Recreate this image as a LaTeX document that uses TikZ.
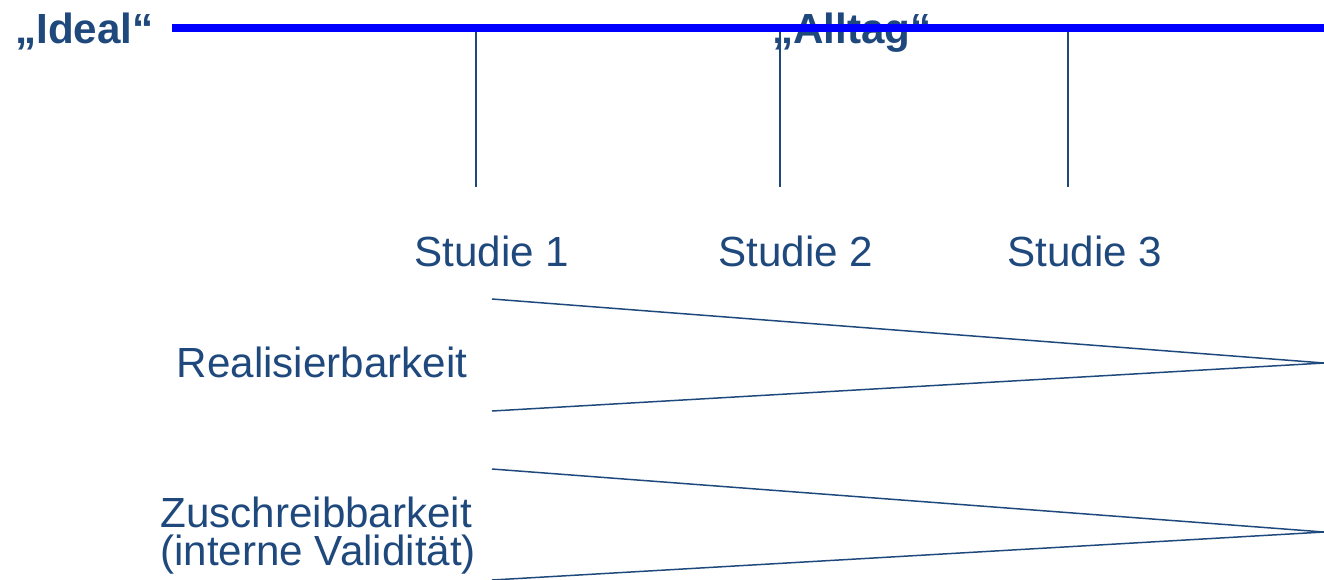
\documentclass[tikz,border=0pt]{standalone}
\usepackage{fontspec}
\setmainfont{Liberation Sans}
\definecolor{darkblue}{RGB}{31,73,125}

\tikzstyle{pole} = [text=darkblue, font=\bfseries\fontsize{24}{28}\selectfont, inner sep=0pt, anchor=base west]
\tikzstyle{study} = [text=darkblue, font=\fontsize{24}{28}\selectfont, inner sep=0pt, anchor=base]
\tikzstyle{criterion} = [text=darkblue, font=\fontsize{24}{21.5}\selectfont, inner sep=0pt, align=left, anchor=base west]
\tikzstyle{scalebar} = [line width=4.6pt, draw=blue]
\tikzstyle{tick} = [line width=0.85pt, draw=darkblue]
\tikzstyle{wedge} = [line width=0.85pt, draw=darkblue, line join=miter]

\begin{document}
\begin{tikzpicture}[x=0.02cm, y=-0.02cm]
      \useasboundingbox (0,0) rectangle (1324,579);

      \node (ideal) [pole] at (15,43) {„Ideal“};
      \node (alltag) [pole] at (772,43) {„Alltag“};

      \node (s1) [study] at (492,266) {Studie 1};
      \node (s2) [study] at (796,266) {Studie 2};
      \node (s3) [study] at (1085,266) {Studie 3};

      \node (real) [study] at (322,377) {Realisierbarkeit};
      \node (zusch) [criterion] at (160,565) {Zuschreibbarkeit\\(interne Validität)};

      \coordinate (barL) at (172,28);
      \coordinate (barR) at (1324,28);
      \coordinate (t1top) at (476,28);
      \coordinate (t1bot) at (476,187);
      \coordinate (t2top) at (780,28);
      \coordinate (t2bot) at (780,187);
      \coordinate (t3top) at (1068,28);
      \coordinate (t3bot) at (1068,187);

      \coordinate (w1a) at (492,299);
      \coordinate (w1tip) at (1324,363);
      \coordinate (w1b) at (492,411);
      \coordinate (w2a) at (492,469);
      \coordinate (w2tip) at (1324,532);
      \coordinate (w2b) at (492,580);

      \draw [tick] (t1top) -- (t1bot);
      \draw [tick] (t2top) -- (t2bot);
      \draw [tick] (t3top) -- (t3bot);
      \draw [scalebar] (barL) -- (barR);

      \draw [wedge] (w1a) -- (w1tip) -- (w1b);
      \draw [wedge] (w2a) -- (w2tip) -- (w2b);
    \end{tikzpicture}
\end{document}
